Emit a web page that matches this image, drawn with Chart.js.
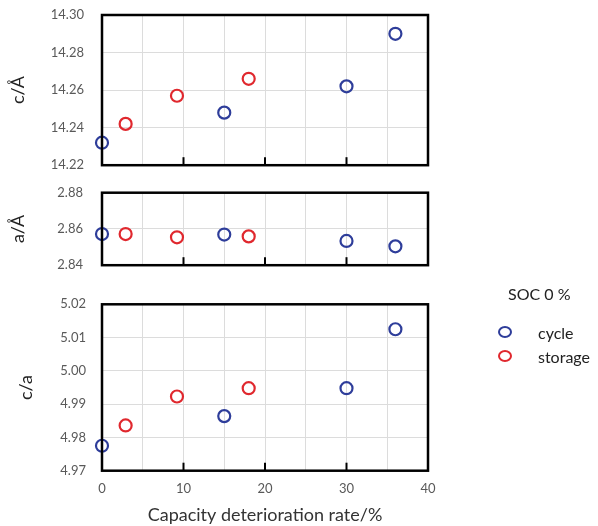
<!DOCTYPE html>
<html>
<head>
<meta charset="utf-8">
<script src="https://cdn.jsdelivr.net/npm/chart.js@4.4.1/dist/chart.umd.min.js"></script>
<style>
  body { margin: 0; background: #fff; }
  #wrap { position: relative; width: 598px; height: 526px; font-family: Lato, sans-serif; }
  .panel { position: absolute; left: 0; width: 598px; }
  #legend { position: absolute; left: 492px; top: 284px; color: #222; font-size: 16px; }
  #legend .title { margin-left: 16px; margin-bottom: 17px; }
  #legend .row { display: flex; align-items: center; height: 24px; }
  #legend .dot { width: 10px; height: 8px; border-radius: 50%; border: 2px solid; margin: 0 26px 0 6px; }
</style>
</head>
<body>
<div id="wrap">
  <div class="panel" style="top:0;height:175px"><canvas id="cChart"></canvas></div>
  <div class="panel" style="top:175px;height:100px"><canvas id="aChart"></canvas></div>
  <div class="panel" style="top:275px;height:251px"><canvas id="caChart"></canvas></div>
  <div id="legend">
    <div class="title">SOC 0 %</div>
    <div class="row"><span class="dot" style="border-color:#2e3d9a"></span>cycle</div>
    <div class="row"><span class="dot" style="border-color:#e0282e"></span>storage</div>
  </div>
</div>
<script>
// capacity deterioration rate (%)
const cycleX = [0, 15, 30, 36];
const storageX = [2.9, 9.2, 18.0];

// lattice parameter c (Å)
const cycleC = [14.232, 14.248, 14.262, 14.290];
const storageC = [14.242, 14.257, 14.266];

// lattice parameter a (Å)
const cycleA = [2.8572, 2.8569, 2.8534, 2.8504];
const storageA = [2.8572, 2.8554, 2.8559];

// c/a ratio
const cycleCA = [4.9775, 4.9864, 4.9948, 5.0125];
const storageCA = [4.9836, 4.9923, 4.9948];

const xTicks = [0, 10, 20, 30, 40];
const innerTicks = [10, 20, 30];

const blue = '#2e3d9a';
const red = '#e0282e';
const fontFamily = 'Lato, sans-serif';

function toPoints(xs, ys) {
    return xs.map((x, i) => ({ x: x, y: ys[i] }));
}

// frame around the plot area + short inward tick marks on bottom edge
const framePlugin = {
    id: 'frame',
    afterDatasetsDraw(chart) {
        const { ctx, chartArea: a, scales } = chart;
        ctx.save();
        ctx.strokeStyle = '#000';
        ctx.lineWidth = 2.5;
        ctx.strokeRect(a.left, a.top, a.right - a.left, a.bottom - a.top);
        ctx.lineWidth = 2;
        innerTicks.forEach(v => {
            const px = scales.x.getPixelForValue(v);
            ctx.beginPath();
            ctx.moveTo(px, a.bottom);
            ctx.lineTo(px, a.bottom - 8);
            ctx.stroke();
        });
        ctx.restore();
    }
};

function makePanel(id, opts) {
    const ctx = document.getElementById(id).getContext('2d');
    return new Chart(ctx, {
        type: 'scatter',
        data: {
            datasets: [{
                label: 'cycle',
                data: toPoints(cycleX, opts.cycle),
                borderColor: blue,
                backgroundColor: 'rgba(0,0,0,0)',
                borderWidth: 2.2,
                pointRadius: 6
            }, {
                label: 'storage',
                data: toPoints(storageX, opts.storage),
                borderColor: red,
                backgroundColor: 'rgba(0,0,0,0)',
                borderWidth: 2.2,
                pointRadius: 6
            }]
        },
        options: {
            responsive: true,
            maintainAspectRatio: false,
            animation: false,
            clip: false,
            layout: {
                padding: { top: opts.padTop, bottom: opts.padBottom, left: 0, right: 170 }
            },
            plugins: {
                legend: { display: false },
                tooltip: { enabled: false }
            },
            scales: {
                x: {
                    type: 'linear',
                    min: 0,
                    max: 40,
                    afterBuildTicks: function (scale) {
                        scale.ticks = [0, 5, 10, 15, 20, 25, 30, 35, 40].map(v => ({ value: v }));
                    },
                    afterFit: function (scale) {
                        scale.height = opts.xHeight;
                    },
                    border: { display: false },
                    grid: { color: '#dcdcdc', lineWidth: 1, drawTicks: false },
                    ticks: {
                        display: opts.showX,
                        padding: 10,
                        color: '#595959',
                        font: { family: fontFamily, size: 13 },
                        callback: function (value) {
                            return xTicks.includes(value) ? String(value) : '';
                        }
                    },
                    title: {
                        display: opts.showX,
                        text: 'Capacity deterioration rate/%',
                        color: '#333',
                        font: { family: fontFamily, size: 18 },
                        padding: 0
                    }
                },
                y: {
                    min: opts.min,
                    max: opts.max,
                    afterFit: function (scale) {
                        scale.width = 102;
                    },
                    border: { display: false },
                    grid: {
                        color: '#dcdcdc',
                        lineWidth: 1,
                        drawTicks: true,
                        tickLength: opts.tickGap,
                        tickColor: 'rgba(0,0,0,0)'
                    },
                    ticks: {
                        stepSize: opts.step,
                        padding: 2,
                        color: '#595959',
                        font: { family: fontFamily, size: 13 },
                        callback: function (value) {
                            return value.toFixed(2);
                        }
                    },
                    title: {
                        display: true,
                        text: opts.title,
                        color: '#222',
                        font: { family: fontFamily, size: 18 },
                        padding: { top: opts.titlePad, bottom: 0 }
                    }
                }
            }
        },
        plugins: [framePlugin]
    });
}

makePanel('cChart', {
    cycle: cycleC, storage: storageC,
    min: 14.22, max: 14.30, step: 0.02,
    title: 'c/Å', titlePad: 7, tickGap: 16,
    padTop: 15, padBottom: 9, xHeight: 0, showX: false
});

makePanel('aChart', {
    cycle: cycleA, storage: storageA,
    min: 2.84, max: 2.88, step: 0.02,
    title: 'a/Å', titlePad: 7, tickGap: 17,
    padTop: 17.7, padBottom: 8.3, xHeight: 0, showX: false
});

makePanel('caChart', {
    cycle: cycleCA, storage: storageCA,
    min: 4.97, max: 5.02, step: 0.01,
    title: 'c/a', titlePad: 15, tickGap: 14,
    padTop: 29.3, padBottom: 0, xHeight: 55.3, showX: true
});
</script>
</body>
</html>
